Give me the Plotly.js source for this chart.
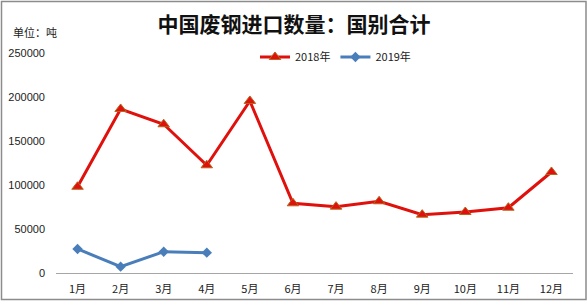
<!DOCTYPE html>
<html>
<head>
<meta charset="utf-8">
<script src="https://cdn.plot.ly/plotly-3.0.1.min.js"></script>
<style>
  html, body { margin: 0; padding: 0; background: #fff; }
  #chart { width: 588px; height: 303px; }
</style>
</head>
<body>
<div id="chart"></div>
<script>
const months = ['1月','2月','3月','4月','5月','6月','7月','8月','9月','10月','11月','12月'];
const months2019 = ['1月','2月','3月','4月'];
const values2018 = [98000, 186400, 169000, 122400, 195500, 79200, 75400, 81500, 66300, 69300, 74200, 114800];
const values2019 = [27300, 7200, 24200, 23100];
const yTicks = [0, 50000, 100000, 150000, 200000, 250000];
const yTickLabels = ['0', '50000', '100000', '150000', '200000', '250000'];

const FONT = '"Noto Sans CJK SC", "Noto Sans", "Liberation Sans", sans-serif';

const traces = [
  {
    x: months, y: values2018, name: '2018年', type: 'scatter', mode: 'lines+markers',
    line: { color: '#e0100c', width: 3 },
    marker: { symbol: 'triangle-up', size: 10, color: '#e0100c', line: { color: '#b5651d', width: 1 } }
  },
  {
    x: months2019, y: values2019, name: '2019年', type: 'scatter', mode: 'lines+markers',
    line: { color: '#4a7ebb', width: 3 },
    marker: { symbol: 'diamond', size: 8, color: '#4a7ebb' }
  }
];

const layout = {
  width: 588, height: 303,
  margin: { l: 56, r: 15, t: 53, b: 30 },
  paper_bgcolor: '#fff', plot_bgcolor: '#fff',
  font: { family: FONT, size: 11, color: '#222' },
  title: {
    text: '中国废钢进口数量：国别合计',
    x: 0.5, xref: 'container', xanchor: 'center',
    y: 1 - 25 / 303, yref: 'container', yanchor: 'middle',
    font: { family: FONT, size: 21, color: '#111', weight: 'bold' },
    automargin: false
  },
  xaxis: {
    type: 'category', categoryarray: months, categoryorder: 'array',
    range: [-0.5, 11.5], autorange: false,
    showgrid: false, zeroline: false, showline: true, linecolor: '#a6a6a6', linewidth: 1,
    ticks: '', ticklabelstandoff: 6, automargin: false,
    tickfont: { family: FONT, size: 11, color: '#222' },
    fixedrange: true
  },
  yaxis: {
    range: [0, 250000], autorange: false, tickvals: yTicks, ticktext: yTickLabels,
    showgrid: false, zeroline: false, showline: false, ticks: '',
    ticklabelstandoff: 10, automargin: false,
    tickfont: { family: 'Liberation Sans, sans-serif', size: 11, color: '#222' },
    fixedrange: true
  },
  showlegend: true,
  legend: {
    orientation: 'h', x: (255 - 56) / 517, xanchor: 'left',
    y: (273 - 57) / 220, yanchor: 'middle',
    font: { family: FONT, size: 11, color: '#222' },
    bgcolor: 'rgba(0,0,0,0)'
  },
  annotations: [
    {
      text: '单位：吨', xref: 'paper', yref: 'paper',
      x: (11 - 56) / 517, xanchor: 'left', y: (273 - 32) / 220, yanchor: 'middle',
      showarrow: false, font: { family: FONT, size: 11, color: '#222' }
    }
  ],
  shapes: [
    {
      type: 'rect', xref: 'paper', yref: 'paper',
      x0: (1.5 - 56) / 517, x1: (586 - 56) / 517,
      y0: (273 - 299.5) / 220, y1: (273 - 1.5) / 220,
      line: { color: '#8c8c8c', width: 1.5 }, fillcolor: 'rgba(0,0,0,0)', layer: 'above'
    }
  ]
};

Plotly.newPlot('chart', traces, layout, { staticPlot: true, displayModeBar: false });
</script>
</body>
</html>
